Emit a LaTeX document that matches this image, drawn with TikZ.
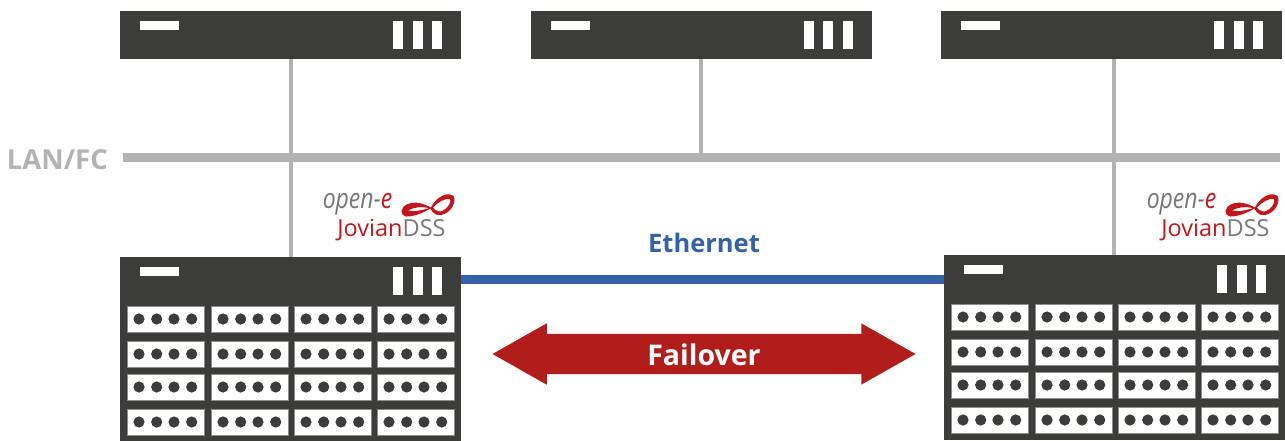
\documentclass[tikz,border=0pt]{standalone}
\usepackage{fontspec}
\usepackage{graphicx}
\setmainfont{Open Sans}
\usetikzlibrary{shapes.arrows}
\definecolor{rackgray}{HTML}{3C3C3B}
\definecolor{lanblue}{HTML}{3561A8}
\definecolor{lingray}{HTML}{B3B3B3}
\definecolor{failred}{HTML}{B11D1A}
\definecolor{logored}{HTML}{C4151C}
\definecolor{logogray}{HTML}{777777}
\tikzset{headbox/.style={rectangle,fill=rackgray,inner sep=0pt,anchor=north west,minimum width=341pt,minimum height=48pt},
  lanlink/.style={draw=lingray,line width=4pt},
  lanbar/.style={draw=lingray,line width=9pt},
  ethlink/.style={draw=lanblue,line width=9pt},
  cellbox/.style={fill=white,draw=black!45,line width=.6pt},
  failarrow/.style={double arrow,double arrow head extend=10.5pt,double arrow tip angle=59,
    fill=failred,text=white,inner xsep=0pt,inner ysep=9pt,text height=22pt,text depth=0pt,
    minimum height=423pt,font=\bfseries\fontsize{28.5}{28.5}\selectfont}}
\newcommand{\rackhead}[3]{
  \begin{scope}[shift={(#2,#3)}]
    \node[headbox] (#1) at (0,0) {};
    \fill[white] (20,10) rectangle (59,19);
    \foreach \barx in {273,292.5,312}
      \fill[white] (\barx,10) rectangle (\barx+10,38);
  \end{scope}}
\newcommand{\rackstore}[3]{
  \rackhead{#1}{#2}{#3}
  \begin{scope}[shift={(#2,#3)}]
    \fill[rackgray] (0,47) rectangle (341,185);
    \foreach \celly in {49,84,117,152}
      \foreach \cellx in {7,91,174,257} {
        \draw[cellbox] (\cellx,\celly) rectangle +(77,26);
        \foreach \dotx in {12,29.7,47,64.7}
          \fill[rackgray] (\cellx+\dotx,\celly+13) circle (5.6pt);
      }
  \end{scope}}
\newcommand{\logotag}[2]{
  \begin{scope}[shift={(#2,0)}]
    \node[inner sep=0pt,text=logogray,font=\itshape\fontsize{28}{28}\selectfont] (#1open) at (357.5,204.5)
      {\scalebox{.82}[1]{open-\textcolor{logored}{e}}};
    \node[inner sep=0pt,text=logogray,font=\fontsize{23.5}{23.5}\selectfont] (#1name) at (391.5,230)
      {\textcolor{logored}{Jovian}DSS};
    \fill[logored,even odd rule] (401.5,211) .. controls (402,205) and (411,201.5) .. (419,203)
      .. controls (424,204) and (428,206) .. (431,207.5)
      .. controls (435,199) and (444,193) .. (450,194.5)
      .. controls (454,195.5) and (455,197) .. (454.5,200)
      .. controls (454,208) and (446,216) .. (438,215)
      .. controls (434,214.5) and (432,211) .. (430,208.5)
      .. controls (424,213) and (412,217) .. (406,216.5)
      .. controls (403,216) and (401.5,214) .. (401.5,211) -- cycle
      (408,210.5) .. controls (413,207.5) and (421,206) .. (429,208.2)
      .. controls (422,210) and (413,212.5) .. (408,210.5) -- cycle
      (433,207.5) .. controls (438,202) and (445,198) .. (450,199)
      .. controls (452,204) and (444,212) .. (439,211.5)
      .. controls (436,211) and (434,209) .. (433,207.5) -- cycle;
  \end{scope}}
\begin{document}
\begin{tikzpicture}[x=1pt,y=-1pt]
  \useasboundingbox (0,0) rectangle (1285,440);
  \rackhead{hostA}{120}{11}
  \rackhead{hostB}{530.5}{11}
  \rackhead{hostC}{941}{11}
  \rackstore{storeA}{120}{257}
  \rackstore{storeB}{944}{255}
  \coordinate (lanL) at (123,157.5);
  \coordinate (lanR) at (1280,157.5);
  \draw[lanbar] (lanL) -- (lanR);
  \draw[lanlink] (hostA.south) -- (hostA.south |- storeA.north);
  \draw[lanlink] (hostB.south) -- (hostB.south |- lanL);
  \draw[lanlink] ([xshift=2pt]hostC.south) -- ([xshift=2pt]hostC.south |- storeB.north);
  \draw[ethlink] (storeA.east |- storeB.east) -- (storeB.west);
  \node[inner sep=0pt,text=lingray,anchor=east,font=\bfseries\fontsize{27.5}{27.5}\selectfont] (lanlabel) at (108,159.5) {LAN/FC};
  \node[inner sep=0pt,text=lanblue,font=\bfseries\fontsize{25.5}{25.5}\selectfont] (ethlabel) at (704,243) {Ethernet};
  \node[failarrow] (failover) at (704,354) {Failover};
  \logotag{logoA}{0}
  \logotag{logoB}{824}
\end{tikzpicture}
\end{document}
